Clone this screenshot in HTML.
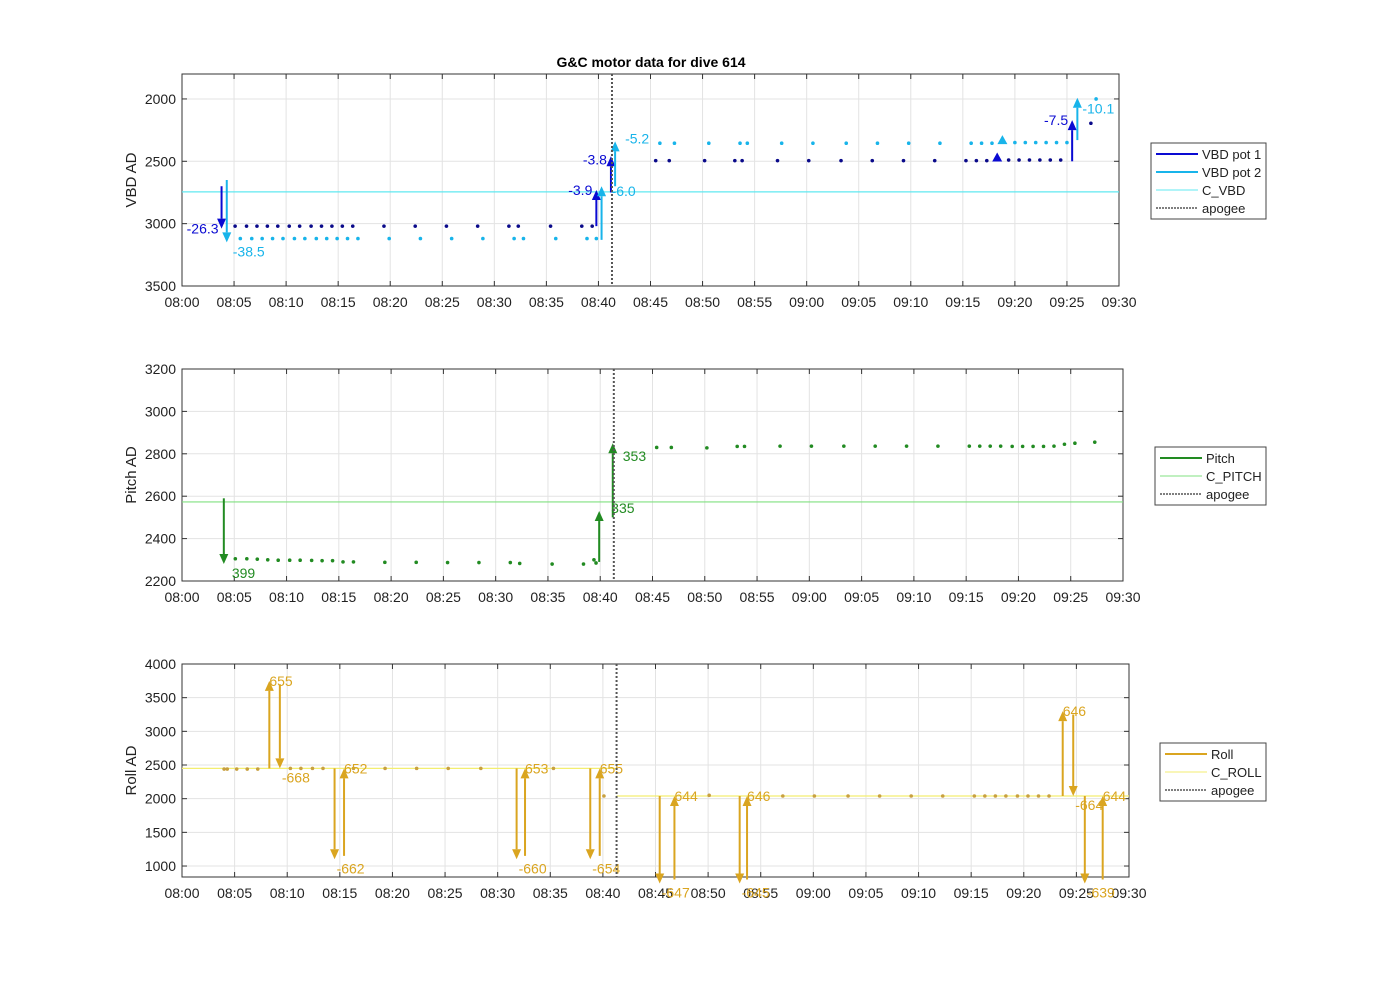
<!DOCTYPE html>
<html><head><meta charset="utf-8"><style>
body{margin:0;background:#fff}
svg text{font-family:"Liberation Sans",Arial,sans-serif}
</style></head><body>
<svg id="chart" width="1400" height="986" viewBox="0 0 1400 986" xmlns="http://www.w3.org/2000/svg">
<text x="651" y="67" text-anchor="middle" font-size="14" font-weight="bold">G&amp;C motor data for dive 614</text>
</svg>
<script>
const apogeeMin = 41.3;
const xTickLabels = ["08:00","08:05","08:10","08:15","08:20","08:25","08:30","08:35","08:40","08:45","08:50","08:55","09:00","09:05","09:10","09:15","09:20","09:25","09:30"];
// VBD
const vbdTicks = [2000,2500,3000,3500];
const pot1Times = [5.1,6.2,7.2,8.2,9.2,10.3,11.3,12.4,13.4,14.4,15.4,16.4,19.4,22.4,25.4,28.4,31.4,32.3,35.4,38.4,39.4,45.5,46.8,50.2,53.1,53.8,57.2,60.2,63.3,66.3,69.3,72.3,75.3,76.3,77.3,79.4,80.4,81.4,82.4,83.4,84.4,87.3];
const pot1Vals = [3020,3020,3020,3020,3020,3020,3020,3020,3020,3020,3020,3020,3020,3020,3020,3020,3020,3020,3020,3020,3020,2495,2495,2495,2495,2495,2495,2495,2495,2495,2495,2495,2495,2495,2495,2490,2490,2490,2490,2490,2490,2195];
const pot2Times = [5.6,6.7,7.7,8.7,9.7,10.8,11.8,12.9,13.9,14.9,15.9,16.9,19.9,22.9,25.9,28.9,31.9,32.8,35.9,38.9,39.8,45.9,47.3,50.6,53.6,54.3,57.6,60.6,63.8,66.8,69.8,72.8,75.8,76.8,77.8,80.0,81.0,82.0,83.0,84.0,85.0,87.8];
const pot2Vals = [3120,3120,3120,3120,3120,3120,3120,3120,3120,3120,3120,3120,3120,3120,3120,3120,3120,3120,3120,3120,3120,2355,2355,2355,2355,2355,2355,2355,2355,2355,2355,2355,2355,2355,2355,2350,2350,2350,2350,2350,2350,2000];
const cVbd = 2745;
const vbdArrowTimes = [3.8,4.3,39.8,40.3,41.2,41.6,85.5,86.0];
const vbdArrowFrom = [2700,2650,3020,3130,2750,2700,2500,2330];
const vbdArrowTo = [3040,3150,2730,2700,2460,2340,2170,1990];
const vbdArrowSeries = [1,2,1,2,1,2,1,2];
const vbdArrowLabels = ["-26.3","-38.5","-3.9","-6.0","-3.8","-5.2","-7.5","-10.1"];
const vbdTriTimes = [78.3,78.8];
const vbdTriVals = [2470,2330];
// Pitch
const pitchTicks = [2200,2400,2600,2800,3000,3200];
const pitchTimes = [5.1,6.2,7.2,8.2,9.2,10.3,11.3,12.4,13.4,14.4,15.4,16.4,19.4,22.4,25.4,28.4,31.4,32.3,35.4,38.4,39.4,39.6,45.4,46.8,50.2,53.1,53.8,57.2,60.2,63.3,66.3,69.3,72.3,75.3,76.3,77.3,78.3,79.4,80.4,81.4,82.4,83.4,84.4,85.4,87.3];
const pitchVals = [2305,2305,2303,2300,2298,2298,2298,2297,2296,2296,2290,2290,2288,2288,2287,2287,2287,2283,2280,2280,2300,2285,2830,2830,2828,2835,2835,2836,2836,2836,2836,2836,2836,2836,2836,2836,2836,2835,2835,2835,2835,2836,2845,2850,2855];
const cPitch = 2573;
const pitchArrowTimes = [4.0,39.9,41.2];
const pitchArrowFrom = [2590,2290,2500];
const pitchArrowTo = [2280,2530,2850];
const pitchArrowLabels = ["399","335","353"];
// Roll
const rollTicks = [1000,1500,2000,2500,3000,3500,4000];
const rollTimes = [4.0,4.3,5.2,6.2,7.2,10.3,11.3,12.4,13.4,16.3,19.3,22.3,25.3,28.4,35.3,40.1,50.1,57.1,60.1,63.3,66.3,69.3,72.3,75.3,76.3,77.3,78.3,79.4,80.4,81.4,82.4];
const rollVals = [2440,2440,2440,2440,2440,2450,2450,2450,2450,2450,2450,2450,2450,2450,2450,2040,2050,2040,2040,2040,2040,2040,2040,2040,2040,2040,2040,2040,2040,2040,2040];
const cRollBefore = 2450;
const cRollAfter = 2040;
const rollArrowTimes = [8.3,9.3,14.5,15.4,31.8,32.6,38.8,39.7,45.4,46.8,53.0,53.7,83.7,84.7,85.8,87.5];
const rollArrowFrom = [2450,3700,2450,1150,2450,1150,2450,1150,2040,800,2040,800,2040,3250,2040,800];
const rollArrowTo = [3750,2450,1100,2450,1100,2450,1100,2450,740,2040,740,2040,3300,2040,740,2040];
const rollArrowLabels = ["655","-668","-662","652","-660","653","-654","655","-647","644","-645","646","646","-664","-639","644"];

const svg = document.getElementById('chart');
const NS = 'http://www.w3.org/2000/svg';
function mk(tag, attrs, parent){const e=document.createElementNS(NS,tag);for(const k in attrs)e.setAttribute(k,attrs[k]);(parent||svg).appendChild(e);return e;}

function makeAxes(cfg){
  const g = mk('g',{});
  
  
  const X = m => cfg.x0 + (cfg.x1-cfg.x0)*m/90;
  const Y = v => cfg.rev ? cfg.y0 + (v-cfg.vmin)/(cfg.vmax-cfg.vmin)*(cfg.y1-cfg.y0) : cfg.y1 - (v-cfg.vmin)/(cfg.vmax-cfg.vmin)*(cfg.y1-cfg.y0);
  mk('rect',{x:cfg.x0,y:cfg.y0,width:cfg.x1-cfg.x0,height:cfg.y1-cfg.y0,fill:'#fff'},g);
  xTickLabels.forEach((l,i)=>{
    const x = X(i*5);
    mk('line',{x1:x,x2:x,y1:cfg.y0,y2:cfg.y1,stroke:'#e3e3e3','stroke-width':1},g);
    mk('line',{x1:x,x2:x,y1:cfg.y1,y2:cfg.y1-5,stroke:'#333'},g);
    mk('line',{x1:x,x2:x,y1:cfg.y0,y2:cfg.y0+5,stroke:'#333'},g);
    const t = mk('text',{x:x,y:cfg.y1+21,'text-anchor':'middle','font-size':14,fill:'#222'},g);
    
    
    t.textContent = l;
  });
  cfg.ticks.forEach(v=>{
    const y = Y(v);
    mk('line',{x1:cfg.x0,x2:cfg.x1,y1:y,y2:y,stroke:'#e3e3e3'},g);
    mk('line',{x1:cfg.x0,x2:cfg.x0+5,y1:y,y2:y,stroke:'#333'},g);
    mk('line',{x1:cfg.x1,x2:cfg.x1-5,y1:y,y2:y,stroke:'#333'},g);
    const t = mk('text',{x:cfg.x0-6,y:y+5,'text-anchor':'end','font-size':14,fill:'#222'},g);
    
    
    t.textContent = v;
  });
  mk('rect',{x:cfg.x0,y:cfg.y0,width:cfg.x1-cfg.x0,height:cfg.y1-cfg.y0,fill:'none',stroke:'#333','stroke-width':1},g);
  const yl = mk('text',{x:0,y:0,'text-anchor':'middle','font-size':15,fill:'#222',transform:`translate(${cfg.x0-46},${(cfg.y0+cfg.y1)/2}) rotate(-90)`},g);
  
  
  yl.textContent = cfg.ylabel;
  return {g,X,Y};
}
function dots(ax, times, vals, color, name){
  times.forEach((t,i)=>{
    const c = mk('circle',{cx:ax.X(t),cy:ax.Y(vals[i]),r:1.8,fill:color},ax.g);
    
    
  });
}
function arrow(ax, t, from, to, color, label, lx, ly, anchor){
  const x = ax.X(t), ya = ax.Y(from), yb = ax.Y(to);
  const dir = yb < ya ? -1 : 1;
  const head = 10;
  const a = mk('g',{},ax.g);
  
  
  mk('line',{x1:x,x2:x,y1:ya,y2:yb-dir*head,stroke:color,'stroke-width':2},a);
  mk('polygon',{points:`${x-4.5},${yb-dir*head} ${x+4.5},${yb-dir*head} ${x},${yb}`,fill:color},a);
  const tx = mk('text',{x:x+lx,y:yb+ly,'font-size':14,fill:color,'text-anchor':anchor||'start'},a);
  
  
  tx.textContent = label;
}
function hline(ax, v, m0, m1, color, name, dash){
  const l = mk('line',{x1:ax.X(m0),x2:ax.X(m1),y1:ax.Y(v),y2:ax.Y(v),stroke:color,'stroke-width':1.2},ax.g);
  if(dash) l.setAttribute('stroke-dasharray',dash);
  
  
}
function apogee(ax, y0, y1){
  const l = mk('line',{x1:ax.X(apogeeMin),x2:ax.X(apogeeMin),y1:y0,y2:y1,stroke:'#555','stroke-width':2,'stroke-dasharray':'2,2'},ax.g);
  
  
}
function legend(x,y,w,entries,name){
  const g = mk('g',{});
  
  
  mk('rect',{x:x,y:y,width:w,height:entries.length*18+4,fill:'#fff',stroke:'#444'},g);
  entries.forEach((e,i)=>{
    const yy = y+11+i*18;
    const l = mk('line',{x1:x+5,x2:x+47,y1:yy,y2:yy,stroke:e.c,'stroke-width':e.w},g);
    if(e.d) l.setAttribute('stroke-dasharray',e.d);
    const t = mk('text',{x:x+51,y:yy+5,'font-size':13,fill:'#222'},g);
    
    
    t.textContent = e.t;
  });
}
const P1='#0a0ad2', P2='#18b4ea', CV='#60e8f0';
// VBD panel
const a1 = makeAxes({name:'vbd-axes',x0:182,x1:1119,y0:74,y1:286,vmin:1800,vmax:3500,rev:true,ticks:vbdTicks,ylabel:'VBD AD'});
hline(a1,cVbd,0,90,CV,'c-vbd-line');
dots(a1,pot1Times,pot1Vals,'#0a0a8a','vbd-pot1-point');
dots(a1,pot2Times,pot2Vals,P2,'vbd-pot2-point');
const vbdLab = [[-3,5,'end'],[6,14,'start'],[-4,5,'end'],[10,10,'start'],[-4,8,'end'],[10,2,'start'],[-4,5,'end'],[5,16,'start']];
vbdArrowTimes.forEach((t,i)=>{
  const c = vbdArrowSeries[i]===1?P1:P2;
  arrow(a1,t,vbdArrowFrom[i],vbdArrowTo[i],c,vbdArrowLabels[i],vbdLab[i][0],vbdLab[i][1],vbdLab[i][2]);
});
vbdTriTimes.forEach((t,i)=>{
  const x=a1.X(t), y=a1.Y(vbdTriVals[i]);
  const p = mk('polygon',{points:`${x-5},${y+4} ${x+5},${y+4} ${x},${y-5}`,fill:i===0?P1:P2},a1.g);
  
  
});
apogee(a1,74,286);
legend(1151,143,115,[{t:'VBD pot 1',c:P1,w:2},{t:'VBD pot 2',c:P2,w:2},{t:'C_VBD',c:CV,w:1},{t:'apogee',c:'#555',w:1.5,d:'2,1'}],'vbd-legend');
// Pitch panel
const PC='#228b22', CP='#80e080';
const a2 = makeAxes({name:'pitch-axes',x0:182,x1:1123,y0:369,y1:581,vmin:2200,vmax:3200,rev:false,ticks:pitchTicks,ylabel:'Pitch AD'});
hline(a2,cPitch,0,90,CP,'c-pitch-line');
dots(a2,pitchTimes,pitchVals,PC,'pitch-point');
const pLab=[[8,14,'start'],[12,2,'start'],[10,18,'start']];
pitchArrowTimes.forEach((t,i)=>arrow(a2,t,pitchArrowFrom[i],pitchArrowTo[i],PC,pitchArrowLabels[i],pLab[i][0],pLab[i][1],pLab[i][2]));
apogee(a2,369,581);
legend(1155,447,111,[{t:'Pitch',c:PC,w:2},{t:'C_PITCH',c:CP,w:1},{t:'apogee',c:'#555',w:1.5,d:'2,1'}],'pitch-legend');
// Roll panel
const RC='#daa520', CR='#f3ee70';
const a3 = makeAxes({name:'roll-axes',x0:182,x1:1129,y0:664,y1:877,vmin:837,vmax:4000,rev:false,ticks:rollTicks,ylabel:'Roll AD'});
hline(a3,cRollBefore,0,apogeeMin,CR,'c-roll-line');
hline(a3,cRollAfter,apogeeMin,90,CR,'c-roll-line');
dots(a3,rollTimes,rollVals,'#c8a040','roll-point');
rollArrowTimes.forEach((t,i)=>{
  const up = rollArrowTo[i] > rollArrowFrom[i];
  arrow(a3,t,rollArrowFrom[i],rollArrowTo[i],RC,rollArrowLabels[i],up?0:2,up?5:14,'start');
});
apogee(a3,664,877);
legend(1160,743,106,[{t:'Roll',c:RC,w:2},{t:'C_ROLL',c:CR,w:1},{t:'apogee',c:'#555',w:1.5,d:'2,1'}],'roll-legend');
</script>
</body></html>
